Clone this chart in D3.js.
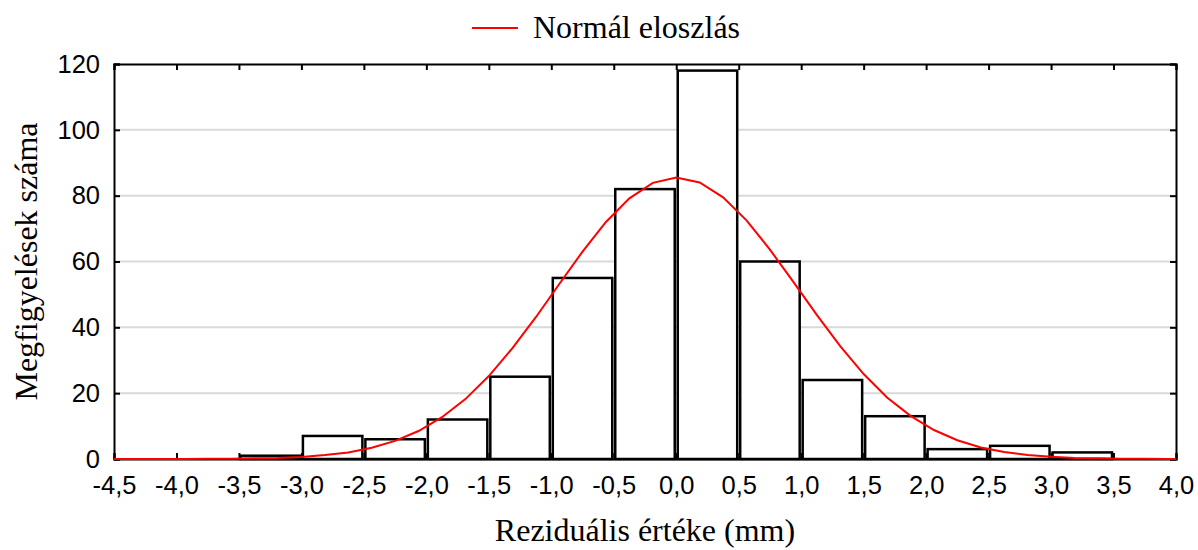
<!DOCTYPE html>
<html>
<head>
<meta charset="utf-8">
<script src="https://cdn.jsdelivr.net/npm/d3@7"></script>
<style>
  body { margin: 0; background: #fff; }
  svg { display: block; }
</style>
</head>
<body>
<script>
// size of the page
var w = 1198;
var h = 550;
var margin = {top: 64, right: 22, bottom: 91, left: 114};

// histogram bins (lower edge, upper edge) and counts
var binStart = [-3.5, -3.0, -2.5, -2.0, -1.5, -1.0, -0.5, 0.0, 0.5, 1.0, 1.5, 2.0, 2.5, 3.0];
var binEnd   = [-3.0, -2.5, -2.0, -1.5, -1.0, -0.5, 0.0, 0.5, 1.0, 1.5, 2.0, 2.5, 3.0, 3.5];
var counts   = [1, 7, 6, 12, 25, 55, 82, 118, 60, 24, 13, 3, 4, 2];

// fitted normal curve
var curveX = [-4.5, -4.3125, -4.125, -3.9375, -3.75, -3.5625, -3.375, -3.1875, -3.0, -2.8125,
              -2.625, -2.4375, -2.25, -2.0625, -1.875, -1.6875, -1.5, -1.3125, -1.125, -0.9375,
              -0.75, -0.5625, -0.375, -0.1875, 0.0, 0.1875, 0.375, 0.5625, 0.75, 0.9375,
              1.125, 1.3125, 1.5, 1.6875, 1.875, 2.0625, 2.25, 2.4375, 2.625, 2.8125,
              3.0, 3.1875, 3.375, 3.5625, 3.75, 3.9375, 4.0];
var curveY = [0, 0, 0, 0, 0.05, 0.1, 0.2, 0.3, 0.6, 1.2,
              2.0, 3.4, 5.5, 8.5, 12.7, 18.2, 25.2, 33.6, 43.0, 53.1,
              63.0, 72.0, 79.2, 83.9, 85.5, 84.0, 79.5, 72.5, 63.6, 53.8,
              43.8, 34.3, 25.8, 18.7, 13.1, 8.8, 5.7, 3.5, 2.1, 1.2,
              0.7, 0.3, 0.2, 0.1, 0.05, 0, 0];

// tick values and labels
var xTicks = [-4.5, -4.0, -3.5, -3.0, -2.5, -2.0, -1.5, -1.0, -0.5, 0.0, 0.5, 1.0, 1.5, 2.0, 2.5, 3.0, 3.5, 4.0];
var yTicks = [0, 20, 40, 60, 80, 100, 120];
var gridY = [20, 40, 60, 80, 100];

var xScale = d3.scaleLinear()
    .domain([-4.5, 4.0])
    .range([margin.left, w - margin.right]);

var yScale = d3.scaleLinear()
    .domain([0, 120])
    .range([h - margin.bottom, margin.top]);

var svg = d3.select("body")
            .append("svg")
            .attr("width", w)
            .attr("height", h);

var fmt = function(d) { return d.toFixed(1).replace(".", ","); };
var serif = "'Liberation Serif', 'Times New Roman', serif";

// gridlines
svg.selectAll("line.grid")
   .data(gridY)
   .enter()
   .append("line")
   .attr("class", "grid")
   .attr("x1", xScale(-4.5))
   .attr("x2", xScale(4.0))
   .attr("y1", function(d) { return yScale(d); })
   .attr("y2", function(d) { return yScale(d); })
   .attr("stroke", "#d9d9d9")
   .attr("stroke-width", 2);

// bars, inset a little so neighbours show a double edge
var bars = binStart.map(function(d, i) {
    return {x0: d, x1: binEnd[i], n: counts[i]};
});

svg.selectAll("rect.bar")
   .data(bars)
   .enter()
   .append("rect")
   .attr("class", "bar")
   .attr("x", function(d) { return xScale(d.x0) + 1.5; })
   .attr("y", function(d) { return yScale(d.n); })
   .attr("width", function(d) { return xScale(d.x1) - xScale(d.x0) - 3; })
   .attr("height", function(d) { return yScale(0) - yScale(d.n); })
   .attr("fill", "#fff")
   .attr("stroke", "#000")
   .attr("stroke-width", 2.5);

// axes with inward ticks on all four sides
var frame = svg.append("g");

frame.append("g")
   .attr("transform", "translate(0," + yScale(0) + ")")
   .call(d3.axisBottom(xScale).tickValues(xTicks).tickSize(-6).tickPadding(17).tickFormat(fmt));

frame.append("g")
   .attr("transform", "translate(0," + yScale(120) + ")")
   .call(d3.axisTop(xScale).tickValues(xTicks).tickSize(-6).tickFormat(""));

frame.append("g")
   .attr("transform", "translate(" + xScale(-4.5) + ",0)")
   .call(d3.axisLeft(yScale).tickValues(yTicks).tickSize(-6).tickPadding(14));

frame.append("g")
   .attr("transform", "translate(" + xScale(4.0) + ",0)")
   .call(d3.axisRight(yScale).tickValues(yTicks).tickSize(-6).tickFormat(""));

frame.selectAll(".domain")
   .attr("stroke", "#000")
   .attr("stroke-width", 2);
frame.selectAll(".tick line")
   .attr("stroke", "#000")
   .attr("stroke-width", 2);
frame.selectAll(".tick text")
   .attr("fill", "#000")
   .style("font-family", "'Liberation Sans', Arial, sans-serif")
   .style("font-size", "25.5px");

// normal curve on top
var line = d3.line()
    .x(function(d, i) { return xScale(curveX[i]); })
    .y(function(d) { return yScale(d); });

svg.append("path")
   .datum(curveY)
   .attr("d", line)
   .attr("fill", "none")
   .attr("stroke", "#ff0000")
   .attr("stroke-width", 2);

// legend
svg.append("line")
   .attr("x1", 472)
   .attr("x2", 518)
   .attr("y1", 28)
   .attr("y2", 28)
   .attr("stroke", "#ff0000")
   .attr("stroke-width", 2);

svg.append("text")
   .attr("x", 533)
   .attr("y", 38)
   .text("Normál eloszlás")
   .style("font-family", serif)
   .style("font-size", "32px");

// axis titles
svg.append("text")
   .attr("x", (xScale(-4.5) + xScale(4.0)) / 2)
   .attr("y", 541)
   .attr("text-anchor", "middle")
   .text("Reziduális értéke (mm)")
   .style("font-family", serif)
   .style("font-size", "32px");

svg.append("text")
   .attr("transform", "translate(37," + (yScale(60)) + ") rotate(-90)")
   .attr("text-anchor", "middle")
   .text("Megfigyelések száma")
   .style("font-family", serif)
   .style("font-size", "32px");
</script>
</body>
</html>
